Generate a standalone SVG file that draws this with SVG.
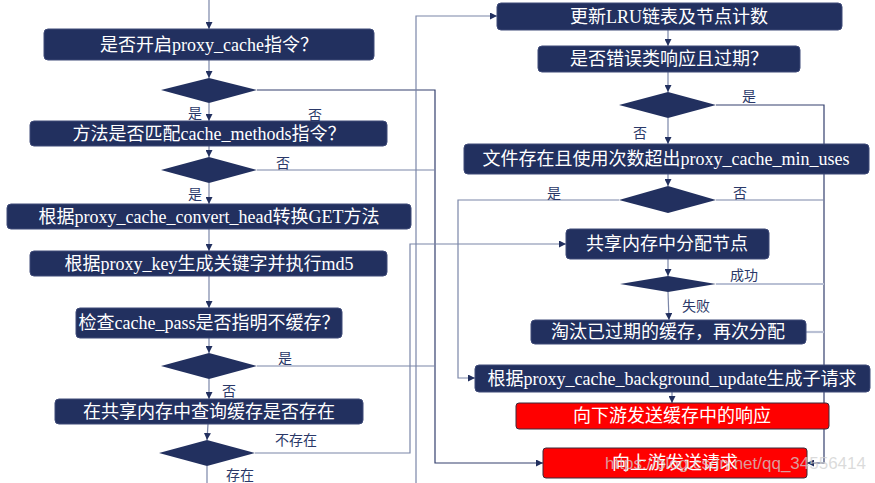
<svg xmlns="http://www.w3.org/2000/svg" width="875" height="483" viewBox="0 0 875 483">
<style>
.box{fill:#22305f;stroke:#3e4a78;stroke-width:1}
.red{fill:#ff0000;stroke:#3a2a3a;stroke-width:1}
.dia{fill:#22305f}
.t{font-family:"Liberation Serif","Noto Sans CJK SC",serif;font-size:18px;fill:#ffffff;text-anchor:middle;dominant-baseline:central}
.lb{font-family:"Liberation Sans","Noto Sans CJK SC",sans-serif;font-size:14px;fill:#2a3868;dominant-baseline:central}
.c{fill:none;stroke:#7b86a8;stroke-width:1.2}
.cd{fill:none;stroke:#34406e;stroke-width:1.2}
.cl{fill:none;stroke:#b9c0d4;stroke-width:2.2}
.wm{font-family:"Liberation Sans",Arial,sans-serif;font-size:17px;fill:#cfcfcf;fill-opacity:0.75;text-anchor:end}
</style>
<defs>
<marker id="a" viewBox="0 0 8 8" refX="8" refY="4" markerWidth="7" markerHeight="7" markerUnits="userSpaceOnUse" orient="auto">
<path d="M0,0 L8,4 L0,8 Z" fill="#22305f"/>
</marker>
</defs>
<g id="connectors">
<path class="c" d="M209,0 V29" marker-end="url(#a)"/>
<path class="c" d="M209,60 V78" marker-end="url(#a)"/>
<path class="c" d="M209,103 V121" marker-end="url(#a)"/>
<path class="c" d="M209,146 V157" marker-end="url(#a)"/>
<path class="c" d="M209,183 V204" marker-end="url(#a)"/>
<path class="c" d="M209,229 V251" marker-end="url(#a)"/>
<path class="c" d="M209,276 V308" marker-end="url(#a)"/>
<path class="c" d="M209,338 V353" marker-end="url(#a)"/>
<path class="c" d="M209,379 V399" marker-end="url(#a)"/>
<path class="c" d="M208,424 L207,440" marker-end="url(#a)"/>
<path class="c" d="M207,466 V483"/>
<path class="cd" d="M257,90 H435 V463 H543" marker-end="url(#a)"/>
<path class="c" d="M257,170 H435"/>
<path class="c" d="M257,366 H435"/>
<path class="c" d="M255,453 H410 V244 H566" marker-end="url(#a)"/>
<path class="c" d="M416,483 V16 H497" marker-end="url(#a)"/>
<path class="c" d="M668,30 V46" marker-end="url(#a)"/>
<path class="c" d="M668,72 V92" marker-end="url(#a)"/>
<path class="c" d="M668,118 V144" marker-end="url(#a)"/>
<path class="cd" d="M716,105 H824 V463 H807" marker-end="url(#a)"/>
<path class="c" d="M668,174 V186" marker-end="url(#a)"/>
<path class="c" d="M619,200 H458 V378 H475" marker-end="url(#a)"/>
<path class="c" d="M716,200 H824"/>
<path class="c" d="M668,259 V276" marker-end="url(#a)"/>
<path class="cl" d="M716,284 H824"/>
<path class="c" d="M668,292 L669,320" marker-end="url(#a)"/>
<path class="cl" d="M806,332 H824"/>
<path class="c" d="M672,392 V403" marker-end="url(#a)"/>
</g>
<g id="n1"><rect class="box" x="44" y="29" width="330" height="31" rx="4"/><text class="t" x="209" y="44.5">是否开启proxy_cache指令？</text></g>
<g id="d1"><polygon class="dia" points="161,90 209,78 257,90 209,103"/></g>
<g id="n2"><rect class="box" x="30" y="121" width="357" height="25" rx="4"/><text class="t" x="209" y="133.5">方法是否匹配cache_methods指令？</text></g>
<g id="d2"><polygon class="dia" points="161,170 209,157 257,170 209,183"/></g>
<g id="n3"><rect class="box" x="7" y="204" width="404" height="25" rx="4"/><text class="t" x="209" y="216.5">根据proxy_cache_convert_head转换GET方法</text></g>
<g id="n4"><rect class="box" x="30" y="251" width="357" height="25" rx="4"/><text class="t" x="209" y="263.5">根据proxy_key生成关键字并执行md5</text></g>
<g id="n5"><rect class="box" x="76" y="308" width="266" height="30" rx="4"/><text class="t" x="209" y="323">检查cache_pass是否指明不缓存？</text></g>
<g id="d3"><polygon class="dia" points="161,366 209,353 257,366 209,379"/></g>
<g id="n6"><rect class="box" x="55" y="399" width="308" height="25" rx="4"/><text class="t" x="209" y="411.5">在共享内存中查询缓存是否存在</text></g>
<g id="d4"><polygon class="dia" points="159,453 207,440 255,453 207,466"/></g>
<g id="r1"><rect class="box" x="497" y="3" width="345" height="27" rx="4"/><text class="t" x="669" y="16.5">更新LRU链表及节点计数</text></g>
<g id="r2"><rect class="box" x="538" y="46" width="262" height="26" rx="4"/><text class="t" x="669" y="59">是否错误类响应且过期？</text></g>
<g id="rd1"><polygon class="dia" points="619,105 668,92 716,105 668,118"/></g>
<g id="r3"><rect class="box" x="464" y="144" width="405" height="30" rx="4"/><text class="t" x="666" y="159">文件存在且使用次数超出proxy_cache_min_uses</text></g>
<g id="rd2"><polygon class="dia" points="619,200 668,186 716,200 668,213"/></g>
<g id="r4"><rect class="box" x="566" y="229" width="203" height="30" rx="4"/><text class="t" x="667" y="244">共享内存中分配节点</text></g>
<g id="rd3"><polygon class="dia" points="620,284 668,276 716,284 668,292"/></g>
<g id="r6"><rect class="box" x="531" y="320" width="275" height="24" rx="4"/><text class="t" x="668" y="332">淘汰已过期的缓存，再次分配</text></g>
<g id="r5"><rect class="box" x="475" y="365" width="395" height="27" rx="4"/><text class="t" x="672" y="378.5">根据proxy_cache_background_update生成子请求</text></g>
<g id="r7"><rect class="red" x="516" y="403" width="313" height="26" rx="3"/><text class="t" x="672" y="416">向下游发送缓存中的响应</text></g>
<g id="r8"><rect class="red" x="543" y="448" width="264" height="30" rx="3"/><text class="t" x="675" y="463">向上游发送请求</text></g>
<g id="labels">
<text class="lb" x="188" y="113">是</text>
<text class="lb" x="308" y="115">否</text>
<text class="lb" x="276" y="163">否</text>
<text class="lb" x="188" y="194">是</text>
<text class="lb" x="278" y="358">是</text>
<text class="lb" x="222" y="391">否</text>
<text class="lb" x="275" y="440">不存在</text>
<text class="lb" x="226" y="475">存在</text>
<text class="lb" x="742" y="96">是</text>
<text class="lb" x="633" y="133">否</text>
<text class="lb" x="547" y="193">是</text>
<text class="lb" x="733" y="193">否</text>
<text class="lb" x="730" y="275">成功</text>
<text class="lb" x="682" y="306">失败</text>
</g>
<text class="wm" x="866" y="469">https://blog.csdn.net/qq_34556414</text>
</svg>
